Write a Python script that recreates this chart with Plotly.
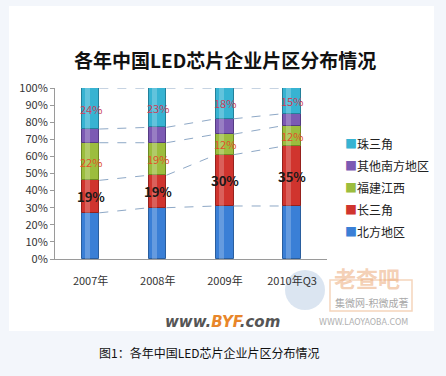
import plotly.graph_objects as go

categories = ["2007年", "2008年", "2009年", "2010年Q3"]
series_names = ["北方地区", "长三角", "福建江西", "其他南方地区", "珠三角"]
north = [27, 30, 31, 31]
yangtze = [19, 19, 30, 35]
fujian = [22, 19, 12, 12]
south_other = [8, 9, 9, 7]
pearl = [24, 23, 18, 15]
y_ticks = [0, 10, 20, 30, 40, 50, 60, 70, 80, 90, 100]

series_values = [north, yangtze, fujian, south_other, pearl]
colors = ["#3a7fd6", "#d0342e", "#9cbd3e", "#7c5ab3", "#37b3d2"]
edge_colors = ["#2a5e9e", "#96211d", "#6d8a24", "#553b83", "#23809a"]

FONT = "Noto Sans CJK SC"
L, R, T, B = 55, 327, 88, 259
W, H = R - L, B - T


def px(x):
    return (x - L) / W


def py(y):
    return (B - y) / H


fig = go.Figure()
xs = list(range(len(categories)))
bases = [[0] * len(categories)]
for vals in series_values:
    bases.append([b + v for b, v in zip(bases[-1], vals)])

bar_w = 0.26
for i, (name, vals) in enumerate(zip(series_names, series_values)):
    fig.add_trace(go.Bar(
        x=xs, y=[v / 100 for v in vals], base=[b / 100 for b in bases[i]],
        width=bar_w, marker=dict(color=colors[i], line=dict(color=edge_colors[i], width=1)),
        showlegend=False, hoverinfo="skip"))
    fig.add_trace(go.Bar(
        x=xs, y=[v / 100 for v in vals], base=[b / 100 for b in bases[i]],
        width=0.07, offset=-0.085, marker=dict(color="rgba(255,255,255,0.22)", line=dict(width=0)),
        showlegend=False, hoverinfo="skip"))

# series lines (dashed connectors between stacked boundaries)
for level in range(1, len(bases)):
    lx, ly = [], []
    for j in range(len(categories) - 1):
        lx += [xs[j] + bar_w / 2, xs[j + 1] - bar_w / 2, None]
        ly += [bases[level][j] / 100, bases[level][j + 1] / 100, None]
    fig.add_trace(go.Scatter(x=lx, y=ly, mode="lines",
                             line=dict(color="#8ea8c6", width=1, dash="dash"),
                             showlegend=False, hoverinfo="skip", cliponaxis=False))

# legend entries, top-down order; the small coloured square is part of the entry text
for i in reversed(range(len(series_names))):
    fig.add_trace(go.Scatter(
        x=[None], y=[None], mode="markers", legendgroup=f"g{i}",
        name=f"<span style='color:{colors[i]}'>■</span>{series_names[i]}",
        marker=dict(symbol="square", size=1, color="rgba(0,0,0,0)")))

# data labels
label_specs = [
    (1, dict(color="#1a1a1a", size=13, family=FONT), True),
    (2, dict(color="#e0502a", size=11, family=FONT), False),
    (4, dict(color="#c8405a", size=11, family=FONT), False),
]
for idx, fnt, bold in label_specs:
    for j, v in enumerate(series_values[idx]):
        t = f"{v}%"
        fig.add_annotation(x=xs[j], y=(bases[idx][j] + v / 2) / 100,
                           text=f"<b>{t}</b>" if bold else t,
                           showarrow=False, font=fnt, xanchor="center", yanchor="middle")


def note(x, y, text, font):
    fig.add_annotation(x=px(x), y=py(y), xref="paper", yref="paper", text=text,
                       showarrow=False, font=font, xanchor="center", yanchor="middle")


note(225, 59, "<b>各年中国LED芯片企业片区分布情况</b>", dict(family=FONT, size=19, color="#111"))
note(209, 352, "图1：各年中国LED芯片企业片区分布情况", dict(family=FONT, size=12, color="#111"))
note(222, 322, "<b><i>www.<span style='color:#e8862a'>BYF</span>.com</i></b>",
     dict(family="DejaVu Sans", size=15, color="#555"))
note(367, 277, "<b>老查吧</b>", dict(family=FONT, size=22, color="rgba(236,170,120,0.55)"))
note(371, 302, "集微网-积微成著", dict(family=FONT, size=10, color="#a8a8a8"))
note(363, 322, "WWW.LAOYAOBA.COM", dict(family="DejaVu Sans", size=8, color="#b0b0b0"))

shapes = [
    dict(type="rect", xref="paper", yref="paper", x0=px(9), x1=px(434), y0=py(331), y1=py(6),
         fillcolor="white", line=dict(width=0), layer="below"),
    dict(type="circle", xref="paper", yref="paper", x0=px(285), x1=px(325), y0=py(310), y1=py(270),
         fillcolor="rgba(190,208,230,0.55)", line=dict(width=0), layer="below"),
    dict(type="rect", xref="paper", yref="paper", x0=px(330), x1=px(412), y0=py(311), y1=py(280),
         fillcolor="rgba(0,0,0,0)", line=dict(color="rgba(236,170,120,0.5)", width=1.5), layer="below"),
]

fig.update_layout(
    width=446, height=376,
    margin=dict(l=L, r=446 - R, t=T, b=376 - B, autoexpand=False),
    paper_bgcolor="#f3f6fb", plot_bgcolor="white",
    barmode="overlay", bargap=0,
    shapes=shapes,
    font=dict(family=FONT, size=10, color="#333"),
    showlegend=True,
    legend=dict(x=px(305), y=py(130), xanchor="left", yanchor="top",
                font=dict(family=FONT, size=12, color="#222"),
                bgcolor="rgba(0,0,0,0)", itemwidth=30, tracegroupgap=3),
    xaxis=dict(range=[-0.53, 3.52], tickmode="array", tickvals=xs, ticktext=categories,
               showline=True, linecolor="#9a9a9a", ticks="", showgrid=False, zeroline=False,
               ticklabelstandoff=12, tickfont=dict(size=11, color="#333")),
    yaxis=dict(range=[0, 1], tickmode="array", tickvals=[t / 100 for t in y_ticks],
               ticktext=[f"{t}%" for t in y_ticks], showline=True, linecolor="#9a9a9a",
               ticks="outside", ticklen=4, tickcolor="#9a9a9a", showgrid=False, zeroline=False,
               tickfont=dict(size=11, color="#333")),
)

fig.write_html("out.html", config={"displayModeBar": False},
               post_script="document.body.style.margin='0';")
